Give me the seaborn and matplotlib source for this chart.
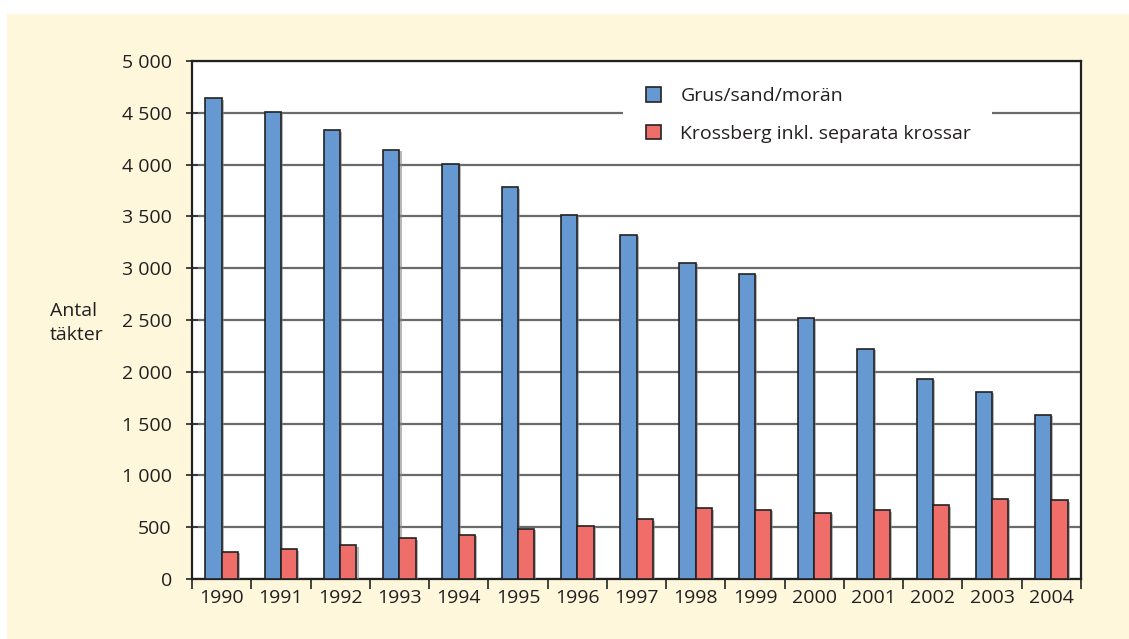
import matplotlib
matplotlib.use("Agg")
import matplotlib.pyplot as plt
import matplotlib.patches as mpatches
import matplotlib.patheffects as pe
from matplotlib.ticker import FuncFormatter, FixedLocator
import seaborn as sns
import pandas as pd

years = ["1990", "1991", "1992", "1993", "1994", "1995", "1996", "1997",
         "1998", "1999", "2000", "2001", "2002", "2003", "2004"]
grus = [4640, 4510, 4330, 4140, 4005, 3780, 3515, 3320, 3050, 2945, 2520, 2220, 1930, 1805, 1585]
kross = [262, 287, 327, 394, 428, 482, 513, 578, 684, 668, 636, 664, 712, 772, 758]
series_names = ["Grus/sand/morän", "Krossberg inkl. separata krossar"]
colors = ["#6699D2", "#F06E6A"]
yticks = [0, 500, 1000, 1500, 2000, 2500, 3000, 3500, 4000, 4500, 5000]

df = pd.DataFrame({
    "year": years * 2,
    "value": grus + kross,
    "series": [series_names[0]] * len(years) + [series_names[1]] * len(years),
})

sns.set_theme(style="white")
plt.rcParams["font.family"] = ["Open Sans", "DejaVu Sans"]

fig = plt.figure(figsize=(11.29, 6.39), dpi=100)
fig.patch.set_facecolor("white")
bg = mpatches.Rectangle((7 / 1129, 0), 1 - 7 / 1129, (639 - 14) / 639,
                        transform=fig.transFigure, facecolor="#FEF7DC",
                        edgecolor="none", zorder=-10)
fig.patches.append(bg)

ax = fig.add_axes([192 / 1129, (639 - 579) / 639, 889 / 1129, 518 / 639])
ax.set_facecolor("white")

sns.barplot(data=df, x="year", y="value", hue="series", order=years,
            hue_order=series_names, palette=colors, width=0.55,
            edgecolor="#222222", linewidth=1.2, saturation=1, ax=ax,
            legend=False, zorder=3)

shadow = [pe.SimplePatchShadow(offset=(1.5, -1.0), shadow_rgbFace="#888888", alpha=0.6), pe.Normal()]
for p in ax.patches:
    p.set_path_effects(shadow)

ax.set_xlim(-0.5, len(years) - 0.5)
ax.set_ylim(0, 5000)
ax.set_yticks(yticks)
ax.yaxis.set_major_formatter(FuncFormatter(lambda v, p: f"{int(v):,}".replace(",", " ")))
ax.yaxis.grid(True, color="#6a6a6a", linewidth=1.6)
ax.set_axisbelow(True)

ax.set_xticks(range(len(years)))
ax.set_xticklabels(years)
ax.xaxis.set_minor_locator(FixedLocator([i - 0.5 for i in range(len(years) + 1)]))
ax.tick_params(axis="x", which="major", length=0, pad=7, labelsize=14, labelcolor="#231f20")
ax.tick_params(axis="x", which="minor", length=7, width=1.3, color="#333333", direction="out", bottom=True)
ax.tick_params(axis="y", which="major", length=9, width=1.3, color="#333333", direction="inout",
               left=True, pad=10, labelsize=14, labelcolor="#231f20")

for s in ["left", "bottom", "top", "right"]:
    ax.spines[s].set_visible(True)
    ax.spines[s].set_color("#222222")
    ax.spines[s].set_linewidth(1.6)

ax.set_xlabel("")
ax.set_ylabel("")
fig.text(50 / 1129, 1 - 323 / 639, "Antal\ntäkter", ha="left", va="center",
         fontsize=14, color="#231f20", linespacing=1.5)

# white box behind the legend, interrupting the gridline
legend_box = mpatches.Rectangle(((623 - 192) / 889, (579 - 158) / 518),
                                (992 - 623) / 889, (158 - 66) / 518,
                                transform=ax.transAxes, facecolor="white",
                                edgecolor="none", zorder=1)
ax.add_patch(legend_box)

handles = [mpatches.Patch(facecolor=c, edgecolor="#222222", linewidth=1.2, label=n)
           for c, n in zip(colors, series_names)]
leg = ax.legend(handles=handles, loc="upper left",
                bbox_to_anchor=((623 - 192) / 889, (579 - 64) / 518),
                frameon=False, fontsize=14, handlelength=0.75, handleheight=0.75,
                handletextpad=1.0, labelspacing=1.0, borderpad=1.2,
                borderaxespad=0)
for t in leg.get_texts():
    t.set_color("#231f20")
leg.set_zorder(5)

fig.savefig("out.png", dpi=100, facecolor=fig.get_facecolor())
